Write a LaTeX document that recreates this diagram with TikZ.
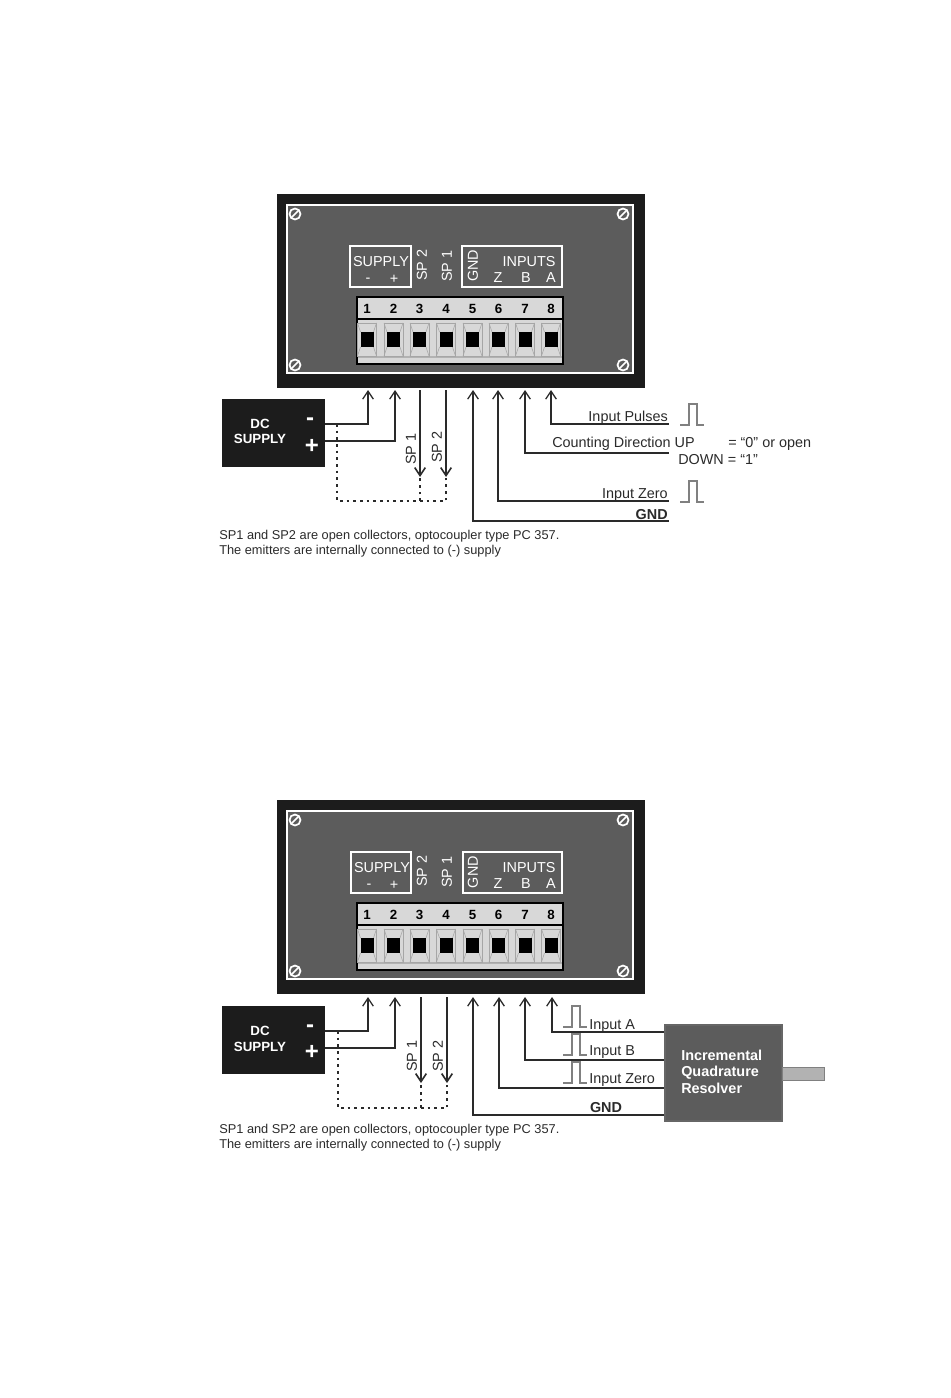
\documentclass[tikz,border=0pt]{standalone}
\usepackage{fontspec}
\setmainfont{Liberation Sans}
\usetikzlibrary{arrows.meta,positioning}
\definecolor{casecol}{HTML}{1C1C1C}
\definecolor{facecol}{HTML}{5C5C5C}
\definecolor{blockcol}{HTML}{D8D8D8}
\definecolor{inkcol}{HTML}{2A2A2A}
\tikzset{
    lbl/.style={font=\fontsize{10.8}{12}\selectfont,inner sep=0pt,text=inkcol},
    lowlbl/.style={lbl,yshift=-1.2pt},
    lblbold/.style={lowlbl,font=\fontsize{10.8}{12}\selectfont\bfseries},
    facelbl/.style={lbl,text=white},
    notelbl/.style={font=\fontsize{9.6}{10.5}\selectfont,inner sep=0pt,text=inkcol,anchor=west,yshift=-1.2pt},
    powerbox/.style={draw=none,fill=casecol,minimum width=77.25pt,minimum height=51pt,inner sep=0pt},
    dclbl/.style={font=\fontsize{10}{12}\selectfont\bfseries,text=white,inner sep=0pt,yshift=-.6pt},
    signlbl/.style={font=\fontsize{18}{18}\selectfont\bfseries,text=white,inner sep=0pt},
    reslbl/.style={font=\fontsize{10.8}{12}\selectfont\bfseries,text=white,inner sep=0pt,anchor=base west},
    wire/.style={draw=inkcol,line width=.95pt},
    wirein/.style={wire,{Straight Barb[length=6pt,width=8pt]}-},
    wireout/.style={wire,line width=1.2pt,-{Straight Barb[length=6pt,width=8pt]}},
    dotwire/.style={draw=inkcol,line width=.8pt,dash pattern=on 2pt off 3pt},
    pulse/.style={draw=gray,line width=.8pt}
}
% front panel with terminal block; #1 prefix, #2 vertical offset, #3 shift of labels
\newcommand{\frontpanel}[3]{
    \begin{scope}[shift={(0,#2)}]
    \filldraw[fill=casecol,draw=casecol] (277,194) rectangle (644,387);
    \filldraw[fill=facecol,draw=white,line width=1.4pt] (287,205) rectangle (633,373);
    \foreach \sx/\sy in {295/214,623/214,295/365,623/365} {
        \draw[white,line width=1.3pt] (\sx,\sy) circle (5.5);
        \draw[white,line width=1.3pt] (\sx-3.5,\sy+3.5) -- (\sx+3.5,\sy-3.5);
    }
    \draw[white,line width=1.3pt] (350+#3,246) rectangle (411,287);
    \draw[white,line width=1.3pt] (462+#3,246) rectangle (562,287);
    \node[facelbl,yshift=-.6pt] (#1supply) at (381+#3,261) {SUPPLY};
    \node[facelbl] (#1minus) at (368+#3,280) {-};
    \node[facelbl] (#1plus) at (394,279) {+};
    \node[facelbl,rotate=90] (#1sptwo) at (422,265) {SP 2};
    \node[facelbl,rotate=90] (#1spone) at (447,266) {SP 1};
    \node[facelbl,rotate=90] (#1gnd) at (473,266) {GND};
    \node[facelbl,yshift=-.6pt] (#1inputs) at (529,261) {INPUTS};
    \node[facelbl] (#1z) at (498,278) {Z};
    \node[facelbl] (#1b) at (526,278) {B};
    \node[facelbl] (#1a) at (551,278) {A};
    \filldraw[fill=blockcol,draw=black,line width=.9pt] (357,297) rectangle (563,364);
    \draw[black,line width=1pt] (357,319) -- (563,319);
    \fill[gray!60] (358,356) rectangle (562,358);
    \foreach \n/\tx in {1/367,2/393.5,3/419.5,4/446,5/472.5,6/498.5,7/525,8/551} {
        \node[inner sep=0pt,text=black,font=\fontsize{10}{12}\selectfont\bfseries] (#1n\n) at (\tx,309) {\n};
        \draw[gray!70,line width=.4pt] (\tx-9.5,323) rectangle (\tx+9.5,356);
        \draw[gray!70,line width=.4pt] (\tx-9.5,323) -- (\tx-6.5,332) (\tx+9.5,323) -- (\tx+6.5,332)
            (\tx-9.5,356) -- (\tx-6.5,347) (\tx+9.5,356) -- (\tx+6.5,347);
        \fill[black] (\tx-6.5,332) rectangle (\tx+6.5,347);
    }
    \end{scope}
}
\begin{document}
\begin{tikzpicture}[x=.75pt,y=-.75pt]
    \useasboundingbox (0,0) rectangle (950,1398);
    \frontpanel{p}{0}{0}
    \frontpanel{q}{606}{1}
    % upper wiring
    \node[powerbox] (dcp) at (273.5,433) {};
    \node[dclbl] (dcpa) at (260,423) {DC};
    \node[dclbl] (dcpb) at (260,438) {SUPPLY};
    \node[signlbl] (dcpm) at (310,422) {-};
    \node[signlbl] (dcpp) at (312,446) {+};
    \coordinate (pm) at (325,424);
    \coordinate (pp) at (325,441);
    \foreach \n/\tx in {1/368,2/395,3/420,4/446,5/473,6/498,7/525,8/551}
        \coordinate (pt\n) at (\tx,390);
    \coordinate (pdot) at (337,424);
    \coordinate (pdotc) at (337,501);
    \coordinate (pa) at (420,477);
    \coordinate (pb) at (446,477);
    \draw[wirein] (pt1) |- (pm);
    \draw[wirein] (pt2) |- (pp);
    \draw[wireout] (pt3) -- (pa);
    \draw[wireout] (pt4) -- (pb);
    \node[lbl,rotate=90] (plsp1) at (411,449) {SP 1};
    \node[lbl,rotate=90] (plsp2) at (437,447) {SP 2};
    \draw[dotwire] (pdot) -- (pdotc) -- (446,501) -- (pb);
    \draw[dotwire] (420,501) -- (pa);
    \coordinate (pgnd) at (669,521);
    \coordinate (pzero) at (669,501);
    \coordinate (pdir) at (669,453);
    \coordinate (pin) at (669,424);
    \draw[wirein] (pt5) |- (pgnd);
    \draw[wirein] (pt6) |- (pzero);
    \draw[wirein] (pt7) |- (pdir);
    \draw[wirein] (pt8) |- (pin);
    \node[lowlbl,anchor=east] (plin) at (668,416) {Input Pulses};
    \node[lowlbl,anchor=west] (pldir) at (552,442) {Counting Direction UP};
    \node[lowlbl,anchor=west] (pldown) at (678,458) {DOWN = “1”};
    \node[lowlbl,anchor=west] (plup) at (728,442) {= “0” or open};
    \node[lowlbl,anchor=east] (plz) at (668,493) {Input Zero};
    \node[lblbold,anchor=east] (plg) at (668,512.5) {GND};
    \draw[pulse] (680,425) -- (689,425) -- (689,404) -- (697,404) -- (697,425) -- (704,425);
    \draw[pulse] (680,502) -- (689,502) -- (689,481) -- (697,481) -- (697,502) -- (704,502);
    \node[notelbl] (pnote1) at (219,535) {SP1 and SP2 are open collectors, optocoupler type PC 357.};
    \node[notelbl] (pnote2) at (219,549.5) {The emitters are internally connected to (-) supply};
    % lower wiring
    \node[powerbox] (dcq) at (273.5,1040) {};
    \node[dclbl] (dcqa) at (260,1030) {DC};
    \node[dclbl] (dcqb) at (260,1046) {SUPPLY};
    \node[signlbl] (dcqm) at (310,1029) {-};
    \node[signlbl] (dcqp) at (312,1052) {+};
    \coordinate (qm) at (325,1031);
    \coordinate (qp) at (325,1048);
    \foreach \n/\tx in {1/368,2/395,3/421,4/447,5/473,6/499,7/525,8/552}
        \coordinate (qt\n) at (\tx,997);
    \coordinate (qdot) at (338,1031);
    \coordinate (qdotc) at (338,1108);
    \coordinate (qa) at (421,1083);
    \coordinate (qb) at (447,1083);
    \draw[wirein] (qt1) |- (qm);
    \draw[wirein] (qt2) |- (qp);
    \draw[wireout] (qt3) -- (qa);
    \draw[wireout] (qt4) -- (qb);
    \node[lbl,rotate=90] (qlsp1) at (412,1056) {SP 1};
    \node[lbl,rotate=90] (qlsp2) at (438,1056) {SP 2};
    \draw[dotwire] (qdot) -- (qdotc) -- (447,1108) -- (qb);
    \draw[dotwire] (421,1108) -- (qa);
    \node[draw=gray!80!black,fill=facecol,line width=.8pt,minimum width=87.75pt,minimum height=72pt,inner sep=0pt] (res) at (723.5,1073) {};
    \node[reslbl] (resa) at (681,1060.5) {Incremental};
    \node[reslbl] (resb) at (681,1076.5) {Quadrature};
    \node[reslbl] (resc) at (681,1093) {Resolver};
    \filldraw[fill=gray!60,draw=gray,line width=.6pt] (782,1067) rectangle (824,1080);
    \draw[wirein] (qt8) |- (res.west |- 0,1032);
    \draw[wirein] (qt7) |- (res.west |- 0,1060);
    \draw[wirein] (qt6) |- (res.west |- 0,1088);
    \draw[wirein] (qt5) |- (res.west |- 0,1115);
    \node[lowlbl,anchor=west] (qla) at (589,1024) {Input A};
    \node[lowlbl,anchor=west] (qlb) at (589,1050) {Input B};
    \node[lowlbl,anchor=west] (qlz) at (589,1078) {Input Zero};
    \node[lblbold] (qlg) at (606,1105.5) {GND};
    \foreach \ty in {1027,1055,1083}
        \draw[pulse] (563,\ty) -- (572,\ty) -- (572,\ty-21) -- (580,\ty-21) -- (580,\ty) -- (587,\ty);
    \node[notelbl] (qnote1) at (219,1129) {SP1 and SP2 are open collectors, optocoupler type PC 357.};
    \node[notelbl] (qnote2) at (219,1144) {The emitters are internally connected to (-) supply};
\end{tikzpicture}
\end{document}
